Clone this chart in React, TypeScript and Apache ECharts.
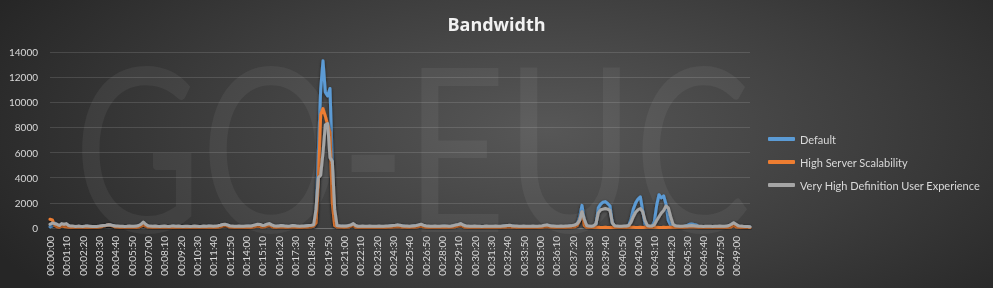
import React, { useEffect, useRef } from "react";
import * as echarts from "echarts";

const chartTitle = "Bandwidth";
const seriesNames = ["Default", "High Server Scalability", "Very High Definition User Experience"];
const seriesColors = ["#5B9BD5", "#ED7D31", "#A5A5A5"];
const yMin = 0;
const yMax = 14000;
const yStep = 2000;
const sampleSeconds = 10;
const labelEvery = 7;

const defaultValues = [
  100, 150, 400, 250, 150, 200, 200, 250, 150, 120,
  100, 100, 120, 100, 100, 120, 130, 110, 100, 90,
  100, 120, 150, 180, 200, 260, 250, 180, 140, 120,
  110, 100, 100, 110, 120, 110, 100, 120, 160, 250,
  400, 250, 150, 120, 110, 120, 100, 100, 110, 120,
  100, 100, 120, 130, 110, 120, 100, 100, 110, 100,
  100, 100, 120, 110, 100, 100, 120, 110, 130, 120,
  100, 120, 150, 200, 250, 280, 220, 150, 120, 110,
  100, 120, 110, 100, 120, 130, 120, 170, 220, 270,
  250, 170, 200, 270, 320, 220, 150, 120, 130, 170,
  150, 120, 110, 130, 170, 150, 120, 110, 120, 130,
  150, 170, 200, 150, 800, 6000, 11000, 13300, 10800, 10500,
  11100, 5000, 400, 150, 120, 130, 120, 130, 170, 220,
  300, 130, 110, 100, 120, 110, 100, 120, 110, 100,
  110, 120, 100, 110, 120, 130, 150, 170, 190, 220,
  190, 150, 130, 120, 110, 130, 150, 170, 220, 270,
  190, 150, 120, 110, 100, 120, 110, 100, 120, 130,
  120, 110, 130, 170, 220, 250, 320, 220, 150, 120,
  110, 100, 120, 110, 100, 90, 100, 120, 110, 100,
  110, 120, 100, 110, 130, 150, 170, 190, 150, 130,
  120, 110, 100, 120, 110, 100, 110, 120, 100, 110,
  120, 150, 190, 220, 170, 130, 120, 110, 100, 120,
  110, 120, 130, 150, 170, 220, 300, 900, 1800, 600,
  170, 120, 110, 150, 300, 1600, 1900, 2050, 2100, 1950,
  1750, 400, 150, 120, 110, 100, 120, 130, 200, 700,
  1500, 2000, 2300, 2480, 1400, 300, 170, 120, 130, 500,
  1800, 2650, 2400, 2550, 1900, 600, 200, 170, 150, 120,
  110, 100, 120, 200, 300, 320, 280, 250, 120, 100,
  90, 100, 110, 100, 90, 100, 110, 120, 100, 110,
  120, 170, 250, 380, 250, 150, 120, 100, 90, 80,
  80,
];

const highServerValues = [
  700, 650, 200, 100, 60, 150, 120, 100, 60, 40,
  40, 30, 40, 30, 30, 40, 50, 40, 30, 30,
  40, 60, 100, 150, 200, 250, 220, 150, 80, 50,
  40, 30, 30, 40, 50, 40, 30, 40, 80, 150,
  250, 150, 80, 50, 40, 50, 30, 30, 40, 50,
  30, 30, 40, 50, 40, 50, 30, 30, 40, 30,
  30, 30, 40, 40, 30, 30, 40, 40, 50, 40,
  30, 40, 60, 100, 150, 200, 150, 80, 50, 40,
  30, 40, 40, 30, 40, 50, 40, 80, 120, 150,
  120, 80, 100, 150, 200, 120, 60, 40, 50, 80,
  60, 40, 40, 50, 80, 60, 40, 40, 40, 50,
  60, 80, 100, 150, 400, 3500, 9000, 9500, 8900, 8200,
  7600, 2000, 200, 80, 50, 50, 40, 50, 80, 150,
  200, 60, 40, 30, 40, 40, 30, 40, 40, 30,
  40, 40, 30, 40, 40, 50, 60, 80, 100, 120,
  100, 60, 50, 40, 40, 50, 60, 80, 120, 150,
  100, 60, 40, 40, 30, 40, 40, 30, 40, 50,
  40, 40, 50, 80, 120, 150, 200, 120, 60, 40,
  40, 30, 40, 40, 30, 30, 30, 40, 40, 30,
  40, 40, 30, 40, 50, 60, 80, 100, 60, 50,
  40, 40, 30, 40, 40, 30, 40, 40, 30, 40,
  40, 60, 100, 120, 80, 50, 40, 40, 30, 40,
  40, 40, 50, 60, 80, 100, 200, 600, 1250, 200,
  60, 40, 30, 40, 60, 50, 40, 40, 50, 40,
  40, 60, 40, 30, 30, 30, 40, 40, 50, 60,
  50, 40, 40, 50, 40, 60, 50, 40, 40, 60,
  50, 40, 40, 50, 40, 50, 60, 50, 40, 30,
  30, 30, 40, 50, 80, 100, 80, 60, 40, 30,
  30, 30, 40, 30, 30, 30, 40, 40, 30, 40,
  40, 60, 100, 200, 100, 50, 40, 30, 30, 30,
  30,
];

const veryHighValues = [
  300, 400, 350, 300, 200, 350, 300, 350, 200, 150,
  150, 120, 150, 130, 120, 150, 160, 140, 120, 110,
  120, 150, 180, 200, 220, 250, 230, 200, 160, 150,
  140, 130, 120, 130, 150, 140, 130, 150, 200, 300,
  480, 300, 180, 150, 140, 150, 130, 120, 140, 150,
  130, 120, 150, 160, 140, 150, 130, 120, 140, 130,
  120, 130, 150, 140, 120, 130, 150, 140, 160, 150,
  130, 150, 180, 220, 280, 300, 250, 180, 150, 140,
  130, 150, 140, 130, 150, 160, 150, 200, 250, 300,
  280, 200, 220, 300, 350, 250, 180, 150, 160, 200,
  180, 150, 140, 160, 200, 180, 150, 140, 150, 160,
  180, 200, 220, 250, 1500, 4000, 4200, 6000, 8200, 8300,
  5600, 5300, 1500, 200, 180, 150, 150, 160, 200, 250,
  350, 200, 140, 130, 150, 140, 130, 150, 140, 130,
  140, 150, 130, 140, 150, 160, 180, 200, 220, 250,
  220, 180, 160, 150, 140, 160, 180, 200, 250, 300,
  220, 180, 150, 140, 130, 150, 140, 130, 150, 160,
  150, 140, 160, 200, 250, 280, 350, 250, 180, 150,
  140, 130, 150, 140, 130, 120, 130, 150, 140, 130,
  140, 150, 130, 140, 160, 180, 200, 220, 180, 160,
  150, 140, 130, 150, 140, 130, 140, 150, 130, 140,
  150, 180, 220, 250, 200, 160, 150, 140, 130, 150,
  140, 150, 160, 180, 200, 250, 350, 600, 1300, 700,
  200, 150, 140, 180, 350, 1200, 1450, 1500, 1550, 1500,
  1400, 400, 180, 150, 140, 130, 150, 160, 200, 450,
  900, 1250, 1450, 1550, 1300, 600, 200, 150, 160, 250,
  600, 900, 1200, 1400, 1750, 1600, 900, 300, 180, 150,
  140, 130, 150, 160, 180, 200, 180, 150, 140, 130,
  120, 130, 140, 130, 120, 130, 140, 150, 130, 140,
  150, 200, 300, 420, 300, 180, 150, 130, 120, 110,
  100,
];

function timeLabel(i: number): string {
  const total = i * sampleSeconds;
  const h = Math.floor(total / 3600);
  const m = Math.floor((total % 3600) / 60);
  const s = total % 60;
  const p = (n: number) => String(n).padStart(2, "0");
  return `${p(h)}:${p(m)}:${p(s)}`;
}

const categories = defaultValues.map((_, i) => timeLabel(i));
const allValues = [defaultValues, highServerValues, veryHighValues];

const FONT = "Lato, 'Open Sans', sans-serif";

export default function App() {
  const ref = useRef<HTMLDivElement | null>(null);

  useEffect(() => {
    if (!ref.current) return;
    const chart = echarts.init(ref.current, undefined, { renderer: "svg" });
    chart.setOption({
      animation: false,
      backgroundColor: "transparent",
      title: {
        text: chartTitle,
        left: "center",
        top: 10,
        textStyle: {
          color: "#f2f2f2",
          fontSize: 18,
          fontWeight: "bold",
          fontFamily: "'Open Sans', Lato, sans-serif",
        },
      },
      graphic: [
        {
          type: "text",
          silent: true,
          z: -10,
          x: 74,
          y: 143,
          scaleX: 0.99,
          scaleY: 1.3,
          style: {
            text: "GO-EUC",
            fill: "rgba(255,255,255,0.055)",
            font: "normal 176px Lato, sans-serif",
            textAlign: "left",
            textVerticalAlign: "middle",
          },
        },
      ],
      legend: {
        orient: "vertical",
        left: 768,
        top: 132,
        padding: 0,
        itemWidth: 27,
        itemHeight: 4,
        itemGap: 9,
        icon: "roundRect",
        textStyle: {
          color: "#d9d9d9",
          fontSize: 11,
          fontFamily: FONT,
          lineHeight: 14,
        },
        data: seriesNames,
      },
      grid: {
        left: 50,
        right: 243,
        top: 52,
        bottom: 60,
        containLabel: false,
      },
      xAxis: {
        type: "category",
        data: categories,
        boundaryGap: false,
        axisLine: { show: true, lineStyle: { color: "rgba(255,255,255,0.15)", width: 1 } },
        axisTick: { show: false },
        axisLabel: {
          interval: labelEvery - 1,
          rotate: 90,
          margin: 8,
          color: "#d9d9d9",
          fontSize: 10,
          fontFamily: FONT,
        },
        splitLine: { show: false },
      },
      yAxis: {
        type: "value",
        min: yMin,
        max: yMax,
        interval: yStep,
        axisLine: { show: false },
        axisTick: { show: false },
        axisLabel: {
          color: "#d9d9d9",
          fontSize: 10,
          fontFamily: FONT,
          margin: 12,
          formatter: (v: number) => String(v),
        },
        splitLine: { lineStyle: { color: "rgba(255,255,255,0.13)", width: 1 } },
      },
      series: seriesNames.map((name, k) => ({
        name,
        type: "line",
        data: allValues[k],
        showSymbol: false,
        symbol: "none",
        color: seriesColors[k],
        lineStyle: {
          width: 3,
          color: seriesColors[k],
          cap: "round",
          join: "round",
          shadowColor: "rgba(0,0,0,0.55)",
          shadowBlur: 3,
          shadowOffsetY: 1,
        },
      })),
    });
    return () => chart.dispose();
  }, []);

  return (
    <div
      ref={ref}
      style={{
        position: "fixed",
        left: 0,
        top: 0,
        width: 993,
        height: 288,
        background:
          "radial-gradient(ellipse 62% 95% at 55% 45%, #575757 0%, #3d3d3d 55%, #262626 100%)",
      }}
    />
  );
}
